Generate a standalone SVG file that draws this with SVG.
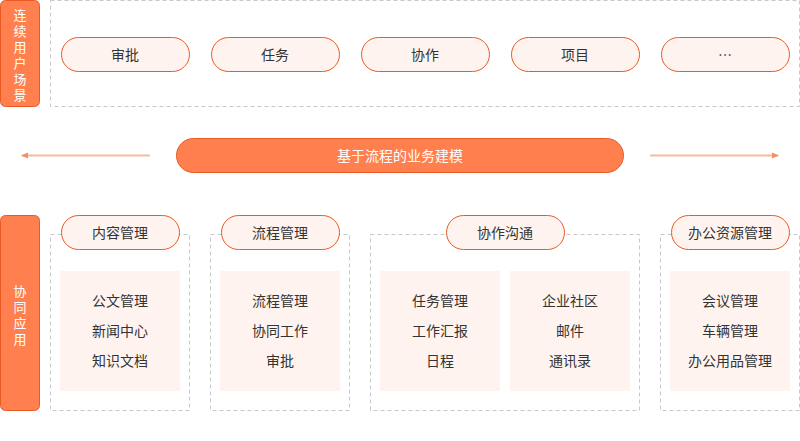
<svg xmlns="http://www.w3.org/2000/svg" width="800" height="441" viewBox="0 0 800 441">
<style>
text{font-family:"Noto Sans CJK SC","Noto Sans",sans-serif;font-size:14px;fill:#333;text-anchor:middle;dominant-baseline:central}
.bar{fill:#ff7f4f;stroke:#e85b27;stroke-width:1}
.w{fill:#fff}
.v{font-size:13px}
.pill{fill:#fff3ef;stroke:#e85b27;stroke-width:1}
.dash{fill:none;stroke:#c8c8c8;stroke-dasharray:4 3}
.inner{fill:#fff3ef}
.arr{stroke:#f9b99e;stroke-width:2;fill:none}
</style>
<defs><marker id="ah" markerWidth="8" markerHeight="8" refX="6" refY="4" orient="auto" markerUnits="userSpaceOnUse"><path d="M0,1 L7,4 L0,7 Z" fill="#f4906a"/></marker></defs>
<g id="scene-label"><rect class="bar" x="0.5" y="0.5" width="39" height="106" rx="5"/>
<text class="w v" x="20" y="14">连</text><text class="w v" x="20" y="30">续</text><text class="w v" x="20" y="46">用</text><text class="w v" x="20" y="62">户</text><text class="w v" x="20" y="78">场</text><text class="w v" x="20" y="94">景</text></g>
<g id="scene-box"><rect class="dash" x="50.5" y="0.5" width="749" height="106"/></g>
<g id="s1"><rect class="pill" x="61.5" y="37.5" width="128" height="34" rx="17"/><text x="125" y="54">审批</text></g>
<g id="s2"><rect class="pill" x="211.5" y="37.5" width="128" height="34" rx="17"/><text x="275" y="54">任务</text></g>
<g id="s3"><rect class="pill" x="361.5" y="37.5" width="128" height="34" rx="17"/><text x="425" y="54">协作</text></g>
<g id="s4"><rect class="pill" x="511.5" y="37.5" width="128" height="34" rx="17"/><text x="575" y="54">项目</text></g>
<g id="s5"><rect class="pill" x="661.5" y="37.5" width="128" height="34" rx="17"/><text x="725" y="54">…</text></g>
<g id="connectors"><line class="arr" x1="150" y1="155.5" x2="22" y2="155.5" marker-end="url(#ah)"/><line class="arr" x1="650" y1="155.5" x2="778" y2="155.5" marker-end="url(#ah)"/></g>
<g id="core"><rect class="bar" x="176.5" y="138.5" width="447" height="34" rx="17"/><text class="w" x="400" y="155">基于流程的业务建模</text></g>
<g id="app-label"><rect class="bar" x="0.5" y="215.5" width="39" height="195" rx="5"/>
<text class="w v" x="20" y="290">协</text><text class="w v" x="20" y="306">同</text><text class="w v" x="20" y="322">应</text><text class="w v" x="20" y="338">用</text></g>
<g id="g1"><rect class="dash" x="50.5" y="234.5" width="139" height="176"/><rect class="inner" x="60" y="271" width="120" height="120"/><rect class="pill" x="61.5" y="215.5" width="118" height="34" rx="17"/><text x="120" y="232">内容管理</text><text x="120" y="300">公文管理</text><text x="120" y="330">新闻中心</text><text x="120" y="360">知识文档</text></g>
<g id="g2"><rect class="dash" x="210.5" y="234.5" width="139" height="176"/><rect class="inner" x="220" y="271" width="120" height="120"/><rect class="pill" x="221.5" y="215.5" width="118" height="34" rx="17"/><text x="280" y="232">流程管理</text><text x="280" y="300">流程管理</text><text x="280" y="330">协同工作</text><text x="280" y="360">审批</text></g>
<g id="g3"><rect class="dash" x="370.5" y="234.5" width="269" height="176"/><rect class="inner" x="380" y="271" width="120" height="120"/><rect class="inner" x="510" y="271" width="120" height="120"/><rect class="pill" x="446.5" y="215.5" width="118" height="34" rx="17"/><text x="505" y="232">协作沟通</text><text x="440" y="300">任务管理</text><text x="440" y="330">工作汇报</text><text x="440" y="360">日程</text><text x="570" y="300">企业社区</text><text x="570" y="330">邮件</text><text x="570" y="360">通讯录</text></g>
<g id="g4"><rect class="dash" x="660.5" y="234.5" width="139" height="176"/><rect class="inner" x="670" y="271" width="120" height="120"/><rect class="pill" x="671.5" y="215.5" width="118" height="34" rx="17"/><text x="730" y="232">办公资源管理</text><text x="730" y="300">会议管理</text><text x="730" y="330">车辆管理</text><text x="730" y="360">办公用品管理</text></g>
</svg>
